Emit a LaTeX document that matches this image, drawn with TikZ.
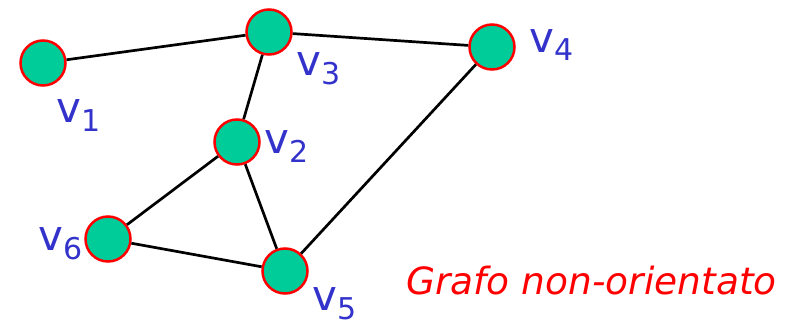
\documentclass[tikz,border=0pt]{standalone}
\usepackage{fontspec}
\setmainfont{DejaVu Sans}
\definecolor{vgreen}{RGB}{0,204,153}
\definecolor{vblue}{RGB}{51,51,204}
\newcommand{\vlab}[1]{v\raisebox{-9pt}{\fontsize{30}{30}\selectfont #1}}
\tikzset{
  vert/.style={circle,draw=red,fill=vgreen,line width=2.5pt,minimum size=45pt,inner sep=0pt},
  vname/.style={anchor=base west,inner sep=0pt,text=vblue,font=\fontsize{42}{42}\selectfont},
  edge/.style={line width=2.7pt}
}
\begin{document}
\begin{tikzpicture}[x=1pt,y=-1pt]
\useasboundingbox (0,0) rectangle (790,324);

\node[vert] (v1) at (43,63){};
\node[vert] (v3) at (269,32){};
\node[vert] (v4) at (492,47){};
\node[vert] (v2) at (237,142){};
\node[vert] (v6) at (108,239){};
\node[vert] (v5) at (285,271){};

\draw[edge] (v1)--(v3);
\draw[edge] (v3)--(v4);
\draw[edge] (v3)--(v2);
\draw[edge] (v2)--(v6);
\draw[edge] (v2)--(v5);
\draw[edge] (v6)--(v5);
\draw[edge] (v5)--(v4);

\node[vname] (lv1) at (56,122){\vlab{1}};
\node[vname] (lv3) at (296,75){\vlab{3}};
\node[vname] (lv4) at (529,52){\vlab{4}};
\node[vname] (lv2) at (264,153){\vlab{2}};
\node[vname] (lv6) at (38,250){\vlab{6}};
\node[vname] (lv5) at (312,310){\vlab{5}};

\node[anchor=base west,inner sep=0pt,text=red,font=\fontsize{37.5}{40}\selectfont\itshape] (title) at (406,294){Grafo non-orientato};
\end{tikzpicture}
\end{document}
